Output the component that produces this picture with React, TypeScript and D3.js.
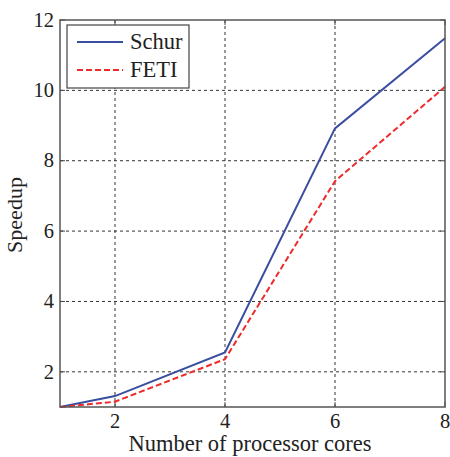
import React from "react";
import * as d3 from "d3";

const cores = [1, 2, 4, 6, 8];
const schur = [1.0, 1.31, 2.55, 8.92, 11.48];
const feti = [1.0, 1.15, 2.36, 7.42, 10.1];
const xTicks = [2, 4, 6, 8];
const yTicks = [2, 4, 6, 8, 10, 12];
const seriesNames = ["Schur", "FETI"];

const W = 450, H = 457;
const M = { left: 60, right: 5, top: 20, bottom: 50 };
const FONT = "Liberation Serif";

export default function App() {
  const x = d3.scaleLinear().domain([1, 8]).range([M.left, W - M.right]);
  const y = d3.scaleLinear().domain([1, 12]).range([H - M.bottom, M.top]);
  const line = d3.line<number>().x((_, i) => x(cores[i])).y((d) => y(d));
  const x0 = x(1), x1 = x(8), y0 = y(1), y1 = y(12);
  const textColor = "#222";
  return (
    <svg width={W} height={H} style={{ position: "absolute", left: 0, top: 0, background: "#fff", fontFamily: FONT }}>
      {xTicks.filter((t) => t < 8).map((t) => (
        <line key={"gx" + t} x1={x(t)} x2={x(t)} y1={y0} y2={y1} stroke="#333" strokeWidth={1} strokeDasharray="3,3" />
      ))}
      {yTicks.filter((t) => t < 12).map((t) => (
        <line key={"gy" + t} x1={x0} x2={x1} y1={y(t)} y2={y(t)} stroke="#333" strokeWidth={1} strokeDasharray="3,3" />
      ))}
      {xTicks.map((t) => (
        <g key={"tx" + t}>
          <line x1={x(t)} x2={x(t)} y1={y0} y2={y0 - 5} stroke="#444" />
          <line x1={x(t)} x2={x(t)} y1={y1} y2={y1 + 5} stroke="#444" />
          <text x={x(t)} y={428} textAnchor="middle" fontFamily={FONT} fontSize={20.5} fill={textColor}>{t}</text>
        </g>
      ))}
      {yTicks.map((t) => (
        <g key={"ty" + t}>
          <line x1={x0} x2={x0 + 5} y1={y(t)} y2={y(t)} stroke="#444" />
          <line x1={x1} x2={x1 - 5} y1={y(t)} y2={y(t)} stroke="#444" />
          <text x={x0 - 6} y={y(t)} dy="0.33em" textAnchor="end" fontFamily={FONT} fontSize={20.5} fill={textColor}>{t}</text>
        </g>
      ))}
      <path d={line(schur) || ""} fill="none" stroke="#3a4ea0" strokeWidth={2} />
      <path d={line(feti) || ""} fill="none" stroke="#ee2b2b" strokeWidth={2} strokeDasharray="6,3" />
      <rect x={x0} y={y1} width={x1 - x0} height={y0 - y1} fill="none" stroke="#555" strokeWidth={1.5} />
      <g>
        <rect x={67} y={25} width={122} height={63} fill="#fff" stroke="#444" strokeWidth={1.2} />
        <line x1={77} x2={123} y1={42} y2={42} stroke="#3a4ea0" strokeWidth={2} />
        <text x={130} y={42} dy="0.33em" fontFamily={FONT} fontSize={22.5} fill={textColor}>{seriesNames[0]}</text>
        <line x1={77} x2={123} y1={70} y2={70} stroke="#ee2b2b" strokeWidth={2} strokeDasharray="6,3" />
        <text x={130} y={70} dy="0.33em" fontFamily={FONT} fontSize={22.5} fill={textColor}>{seriesNames[1]}</text>
      </g>
      <text x={250} y={451} textAnchor="middle" fontFamily={FONT} fontSize={22.5} fill={textColor}>Number of processor cores</text>
      <text transform={`translate(22, 215) rotate(-90)`} textAnchor="middle" fontFamily={FONT} fontSize={22} fill={textColor}>Speedup</text>
    </svg>
  );
}
